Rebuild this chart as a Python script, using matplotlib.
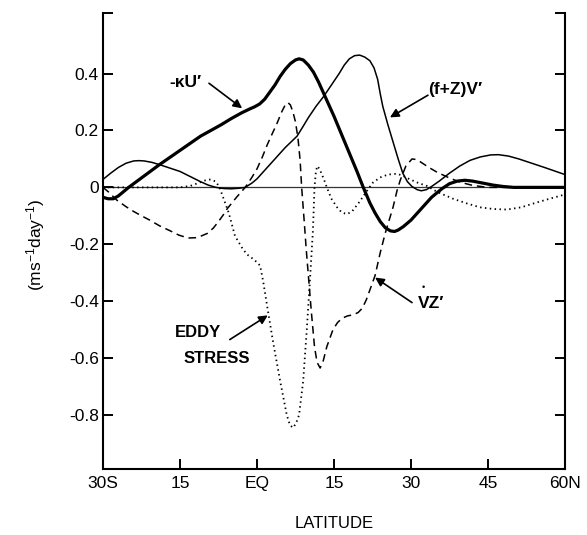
import matplotlib
matplotlib.use("Agg")
import matplotlib.pyplot as plt

plt.rcParams['font.family'] = ['Liberation Sans', 'DejaVu Sans']
plt.rcParams['mathtext.default'] = 'regular'

# ---- data ----
lat_ku = [-30, -29, -28, -27, -26, -25, -23.5, -22, -20.5, -19, -17, -15, -13, -11, -9, -7, -5,
          -3, -1.5, -0.5, 0.5, 1.5, 2.5, 3.5, 4.5, 5.5, 6.5, 7.5, 8.2, 9, 10, 11, 12, 13.5, 15,
          16.5, 18, 19.5, 20.7, 22, 23, 24, 25, 26, 26.8, 27.5, 28.5, 30, 32, 34, 36, 37.5,
          39, 40.5, 42, 44, 46, 48, 50, 60]
ku = [-0.035, -0.04, -0.04, -0.03, -0.015, 0.0, 0.02, 0.04, 0.06, 0.08, 0.105, 0.13, 0.155,
      0.18, 0.2, 0.22, 0.242, 0.262, 0.275, 0.283, 0.293, 0.31, 0.335, 0.36, 0.39, 0.415,
      0.435, 0.448, 0.452, 0.448, 0.43, 0.405, 0.37, 0.31, 0.25, 0.185, 0.12, 0.055, 0.0,
      -0.055, -0.09, -0.12, -0.142, -0.153, -0.155, -0.15, -0.138, -0.115, -0.075, -0.035,
      -0.005, 0.013, 0.022, 0.025, 0.022, 0.015, 0.008, 0.003, 0.0, 0.0]

lat_fzv = [-30, -28.5, -27, -25.5, -24, -23, -22, -20.5, -19, -17, -15, -13, -11, -9.5, -8,
           -6.5, -5, -3.5, -2.3, -1, 0, 1, 2, 3.5, 5.5, 7.8, 9, 10, 11.5, 13, 14.5, 16, 17, 18,
           19, 20, 21, 22, 22.8, 23.5, 24, 24.5, 25.5, 26.5, 27.5, 28.4, 29.3, 30.2, 31.2, 32,
           33, 34, 35.5, 37.5, 39.5, 41.5, 43.5, 45.5, 47, 49, 51, 53, 56, 60]
fzv = [0.028, 0.05, 0.07, 0.085, 0.093, 0.094, 0.093, 0.088, 0.08, 0.068, 0.056, 0.038, 0.02,
       0.008, 0.0, -0.004, -0.005, -0.003, 0.0, 0.015, 0.03, 0.05, 0.07, 0.1, 0.14, 0.18,
       0.215, 0.245, 0.285, 0.32, 0.36, 0.40, 0.43, 0.452, 0.463, 0.465, 0.458, 0.445, 0.42,
       0.38, 0.33, 0.285, 0.22, 0.16, 0.10, 0.05, 0.02, 0.003, -0.008, -0.012, -0.008, 0.003,
       0.022, 0.05, 0.075, 0.095, 0.107, 0.114, 0.115, 0.11, 0.10, 0.088, 0.07, 0.045]

lat_vz = [-30, -29, -27.3, -25.5, -24, -22.5, -20.8, -19, -17, -15.2, -13.4, -12, -11, -9.7,
          -8.5, -7.5, -6.5, -5.8, -4, -2.3, -1, 0, 1, 2, 3, 3.9, 4.8, 5.5, 6.0, 6.5, 7.0, 7.5,
          8.0, 8.4, 8.7, 9.2, 9.6, 10.1, 10.6, 11.2, 11.7, 12.3, 12.9, 13.6, 14.8, 15.7, 16.6,
          17.6, 18.7, 19.7, 20.5, 21.3, 22, 23, 24, 25, 26.5, 27.3, 27.9, 29, 30.2, 31, 31.8,
          33.5, 35.1, 37.5, 39.6, 42, 45, 60]
vz = [0.0, -0.015, -0.045, -0.068, -0.085, -0.1, -0.116, -0.135, -0.152, -0.168, -0.178,
      -0.177, -0.172, -0.162, -0.143, -0.12, -0.095, -0.075, -0.035, 0.0, 0.035, 0.065, 0.105,
      0.15, 0.19, 0.225, 0.265, 0.29, 0.298, 0.29, 0.265, 0.23, 0.17, 0.095, 0.0, -0.12,
      -0.22, -0.33, -0.44, -0.56, -0.615, -0.635, -0.61, -0.56, -0.50, -0.475, -0.46, -0.452,
      -0.448, -0.44, -0.425, -0.395, -0.36, -0.31, -0.23, -0.16, -0.07, -0.01, 0.025, 0.075,
      0.10, 0.098, 0.09, 0.07, 0.053, 0.033, 0.018, 0.007, 0.0, 0.0]

lat_es = [-30, -20, -15, -13, -11.5, -10, -9, -8, -7.3, -6.5, -5.5, -4.3, -3, -2, -0.5, 0.6,
          1.2, 2, 3.1, 4.5, 5.8, 6.4, 7.0, 7.6, 8.2, 9, 9.7, 10.3, 10.9, 11.2, 11.5, 11.8, 12.3,
          13, 13.6, 14.5, 15.6, 16.5, 17.5, 18.5, 20, 21.3, 22.6, 24, 25.5, 27.3, 28.5, 29.8,
          31.5, 33.1, 35, 38.2, 40.8, 43.4, 46, 48.7, 51.5, 54.5, 57, 60]
es = [0.0, 0.0, 0.0, 0.005, 0.015, 0.025, 0.028, 0.02, 0.0, -0.04, -0.09, -0.17, -0.21, -0.235,
      -0.255, -0.275, -0.33, -0.42, -0.54, -0.68, -0.80, -0.835, -0.845, -0.83, -0.80, -0.68,
      -0.50, -0.33, -0.15, 0.0, 0.06, 0.075, 0.06, 0.03, 0.0, -0.04, -0.07, -0.088, -0.094,
      -0.085, -0.05, -0.015, 0.017, 0.035, 0.045, 0.048, 0.04, 0.028, 0.015, 0.005, -0.015,
      -0.04, -0.056, -0.07, -0.076, -0.078, -0.07, -0.053, -0.04, -0.025]

xticks = [-30, -15, 0, 15, 30, 45, 60]
xticklabels = ['30S', '15', 'EQ', '15', '30', '45', '60N']
yticks = [-0.8, -0.6, -0.4, -0.2, 0, 0.2, 0.4]
yticklabels = ['-0.8', '-0.6', '-0.4', '-0.2', '0', '0.2', '0.4']
ymin, ymax = -0.99, 0.613

fig = plt.figure(figsize=(5.87, 5.35), dpi=100)
ax = fig.add_axes([103 / 587, 1 - 469 / 535, (565 - 103) / 587, (469 - 13) / 535])

ax.axhline(0, color='#333333', lw=0.9, zorder=1)
ax.plot(lat_ku, ku, color='black', lw=2.3, solid_joinstyle='round', zorder=3)
ax.plot(lat_fzv, fzv, color='black', lw=1.1, solid_joinstyle='round', zorder=3)
ax.plot(lat_vz, vz, color='black', lw=1.1, linestyle=(0, (5, 3.2)), zorder=3)
ax.plot(lat_es, es, color='black', lw=1.3, linestyle=(0, (0.8, 1.9)), zorder=3)

ax.set_xlim(-30, 60)
ax.set_ylim(ymin, ymax)
ax.set_xticks(xticks)
ax.set_xticklabels(xticklabels)
ax.set_yticks(yticks + [ymax])
ax.set_yticklabels(yticklabels + [''])

for s in ['left', 'right', 'bottom']:
    ax.spines[s].set_linewidth(1.5)
ax.spines['top'].set_visible(False)
ax.tick_params(axis='both', direction='in', length=7, width=1.4, labelsize=12.5)
ax.tick_params(axis='y', right=True, labelright=False, pad=3)
ax.tick_params(axis='x', pad=5)

arrow = dict(arrowstyle='-|>', lw=1.2, color='black', mutation_scale=13, shrinkA=0, shrinkB=0)
tkw = dict(fontsize=12.5, fontweight='bold', ha='center', va='center')

ax.text(-14.0, 0.37, '-κU′', **tkw)
ax.annotate('', xy=(-2.9, 0.278), xytext=(-9.35, 0.366), arrowprops=arrow)

ax.text(38.6, 0.343, '(f+Z)V′', **tkw)
ax.annotate('', xy=(25.9, 0.246), xytext=(33.3, 0.324), arrowprops=arrow)

ax.text(33.9, -0.408, 'VZ′', **tkw)
ax.text(32.3, -0.352, '•', fontsize=6.5, ha='center', va='center')
ax.annotate('', xy=(23.0, -0.317), xytext=(30.2, -0.405), arrowprops=arrow)

ax.text(-11.5, -0.51, 'EDDY', fontsize=12, fontweight='bold', ha='center', va='center')
ax.text(-7.8, -0.60, 'STRESS', fontsize=12, fontweight='bold', ha='center', va='center')
ax.annotate('', xy=(2.1, -0.45), xytext=(-5.3, -0.535), arrowprops=arrow)

fig.text(36 / 587, 1 - 245 / 535, '(ms$^{-1}$day$^{-1}$)', rotation=90, fontsize=12.5,
         ha='center', va='center')
fig.text(334 / 587, 1 - 523 / 535, 'LATITUDE', fontsize=12, ha='center', va='center')

fig.savefig('out.png', dpi=100)
